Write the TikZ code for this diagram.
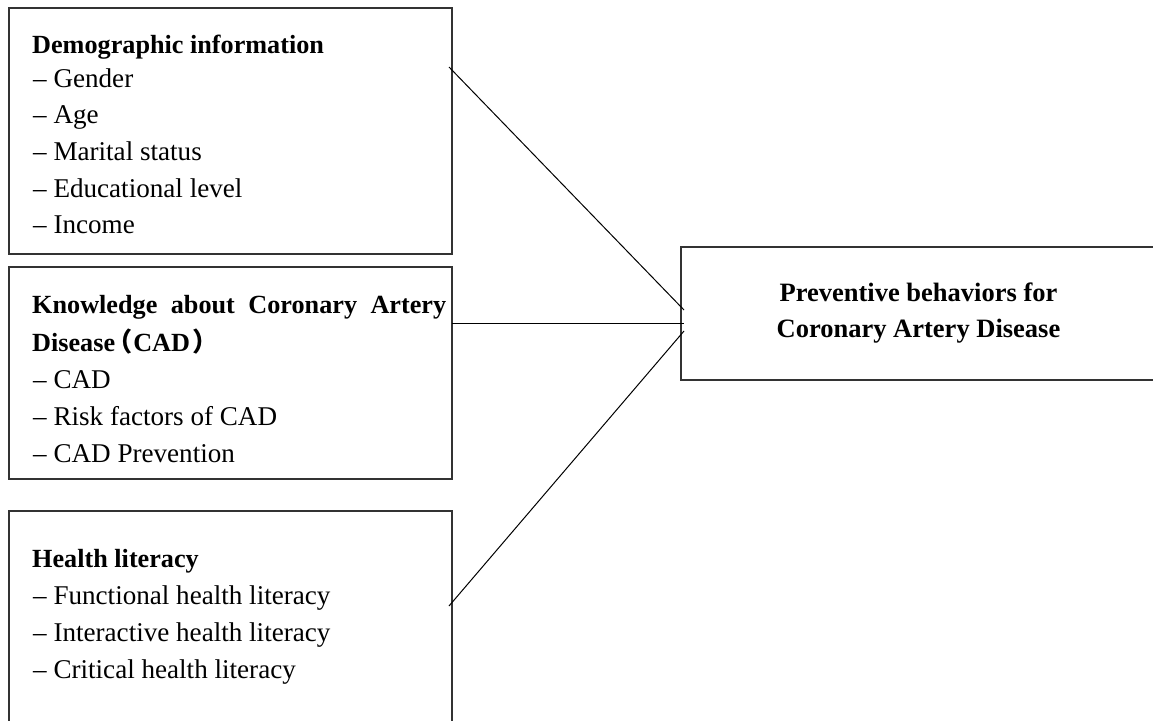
\documentclass[tikz,border=0pt]{standalone}
\usepackage{fontspec}
\setmainfont{Liberation Serif}
\newfontfamily\cjk[RawFeature=+halt]{Noto Sans CJK SC}
\begin{document}
\begin{tikzpicture}[x=1pt,y=-1pt,
  box/.style={draw=black!80, line width=1.6pt, rectangle, inner sep=0pt},
  txt/.style={anchor=base west, inner sep=0pt, font=\fontsize{27.1}{36.7}\selectfont},
  hdr/.style={anchor=base west, inner sep=0pt, font=\fontsize{26.2}{36.7}\selectfont\bfseries},
  ctr/.style={anchor=base, inner sep=0pt, font=\fontsize{26.5}{36.7}\selectfont\bfseries},
  link/.style={draw=black, line width=1pt}]
\useasboundingbox (0,0) rectangle (1153,720);
\clip (0,0) rectangle (1153,720);
% boxes
\node[box, minimum width=443pt, minimum height=246pt] (demo) at (230.5,131) {};
\node[box, minimum width=443pt, minimum height=212pt] (know) at (230.5,373) {};
\node[box, minimum width=443pt, minimum height=229pt] (health) at (230.5,625.5) {};
\node[box, minimum width=499pt, minimum height=133pt] (prev) at (930.5,313.5) {};
% box 1 text
\node[hdr] (d0) at (32,53) {Demographic information};
\node[txt] (d1) at (33,87) {– Gender};
\node[txt] (d2) at (33,123) {– Age};
\node[txt] (d3) at (33,160) {– Marital status};
\node[txt] (d4) at (33,197) {– Educational level};
\node[txt] (d5) at (33,233) {– Income};
% box 2 text
\node[hdr] (k0) at (32,313) {\hbox to 414pt{Knowledge\hfill about\hfill Coronary\hfill Artery}};
\node[hdr] (k1) at (32,351) {Disease\kern4pt\smash{\cjk （}\kern1pt CAD\kern2pt\smash{\cjk ）}};
\node[txt] (k2) at (33,388) {– CAD};
\node[txt] (k3) at (33,425) {– Risk factors of CAD};
\node[txt] (k4) at (33,462) {– CAD Prevention};
% box 3 text
\node[hdr] (h0) at (32,567) {Health literacy};
\node[txt] (h1) at (33,604) {– Functional health literacy};
\node[txt] (h2) at (33,641) {– Interactive health literacy};
\node[txt] (h3) at (33,678) {– Critical health literacy};
% right box text
\node[ctr] (p0) at (918.5,301) {Preventive behaviors for};
\node[ctr] (p1) at (918.5,337) {Coronary Artery Disease};
% connector end points
\coordinate (demoOut) at (449,67);
\coordinate (knowOut) at (452,323);
\coordinate (healthOut) at (449,606);
\coordinate (prevIn1) at (684,310);
\coordinate (prevIn2) at (684,323);
\coordinate (prevIn3) at (684,331);
% connectors
\draw[link] (demoOut) -- (prevIn1);
\draw[link] (knowOut) -- (prevIn2);
\draw[link] (healthOut) -- (prevIn3);
\end{tikzpicture}
\end{document}
